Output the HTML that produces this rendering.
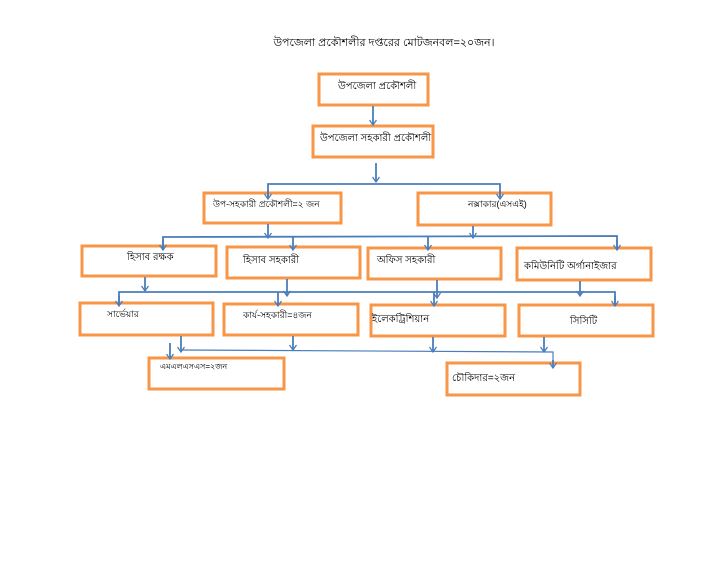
<!DOCTYPE html>
<html><head><meta charset="utf-8"><style>
html,body{margin:0;padding:0;background:#fff;width:720px;height:571px;overflow:hidden}
text{font-family:"Liberation Sans","Noto Sans CJK SC",sans-serif;fill:#000}
</style></head><body>
<svg width="720" height="571" viewBox="0 0 720 571" xmlns="http://www.w3.org/2000/svg">
<defs>
<marker id="a" markerWidth="8" markerHeight="8" refX="7" refY="4" orient="auto" markerUnits="userSpaceOnUse">
<path d="M2,0.5 L7,4 L2,7.5" fill="none" stroke="#4a7ebb" stroke-width="1.3"/>
</marker>
</defs>
<text x="384" y="46" font-size="11" text-anchor="middle">উপজেলা প্রকৌশলীর দপ্তরের মোটজনবল=২০জন।</text>
<g fill="none" stroke="#f79646" stroke-width="3">
<rect x="319" y="74" width="109" height="31"/>
<rect x="313" y="126" width="120" height="31"/>
<rect x="204" y="193" width="137" height="30"/>
<rect x="418" y="193" width="133" height="32"/>
<rect x="82" y="246" width="134" height="30"/>
<rect x="227" y="247" width="133" height="31"/>
<rect x="368" y="248" width="133" height="31"/>
<rect x="517" y="248" width="134" height="32"/>
<rect x="80" y="303" width="133" height="32"/>
<rect x="224" y="304" width="134" height="31"/>
<rect x="371" y="305" width="134" height="31"/>
<rect x="519" y="305" width="134" height="31"/>
<rect x="149" y="358" width="135" height="31"/>
<rect x="447" y="363" width="133" height="32"/>
</g>
<g stroke="#4a7ebb" stroke-width="1.8" fill="none">
<line x1="373" y1="106" x2="373" y2="125" marker-end="url(#a)"/>
<line x1="376" y1="163" x2="376" y2="182" marker-end="url(#a)"/>
<polyline points="268,199 268,184 500,184 500,199"/>
<line x1="268" y1="190" x2="268" y2="199" marker-end="url(#a)"/>
<line x1="500" y1="190" x2="500" y2="199" marker-end="url(#a)"/>
<line x1="268" y1="224" x2="268" y2="238" marker-end="url(#a)"/>
<line x1="473" y1="226" x2="473" y2="238" marker-end="url(#a)"/>
<polyline points="163,250 163,237 617,236 617,250"/>
<line x1="163" y1="240" x2="163" y2="250" marker-end="url(#a)"/>
<line x1="293" y1="237" x2="293" y2="250" marker-end="url(#a)"/>
<line x1="428" y1="237" x2="428" y2="250" marker-end="url(#a)"/>
<line x1="617" y1="240" x2="617" y2="250" marker-end="url(#a)"/>
<line x1="145" y1="277" x2="145" y2="291" marker-end="url(#a)"/>
<line x1="287" y1="279" x2="287" y2="296" marker-end="url(#a)"/>
<line x1="437" y1="280" x2="437" y2="298" marker-end="url(#a)"/>
<line x1="580" y1="281" x2="580" y2="296" marker-end="url(#a)"/>
<polyline points="119,306 119,292 615,292 615,306"/>
<line x1="119" y1="296" x2="119" y2="306" marker-end="url(#a)"/>
<line x1="278" y1="292" x2="278" y2="306" marker-end="url(#a)"/>
<line x1="434" y1="292" x2="434" y2="306" marker-end="url(#a)"/>
<line x1="615" y1="296" x2="615" y2="306" marker-end="url(#a)"/>
<line x1="181" y1="336" x2="181" y2="352" marker-end="url(#a)"/>
<line x1="293" y1="336" x2="293" y2="350" marker-end="url(#a)"/>
<line x1="433" y1="337" x2="433" y2="352" marker-end="url(#a)"/>
<line x1="544" y1="337" x2="544" y2="352" marker-end="url(#a)"/>
<line x1="170" y1="343" x2="170" y2="359" marker-end="url(#a)"/>
</g>
<g stroke="#4a7ebb" stroke-width="1.2" fill="none">
<polyline points="181,350 553,352 553,368"/>
<line x1="553" y1="360" x2="553" y2="368" stroke-width="1.8" marker-end="url(#a)"/>
</g>
<g font-size="10">
<text x="338" y="89">উপজেলা প্রকৌশলী</text>
<text x="320" y="141">উপজেলা সহকারী প্রকৌশলী</text>
<text x="213" y="207" font-size="9">উপ-সহকারী প্রকৌশলী=২ জন</text>
<text x="468" y="207" font-size="9">নক্সাকার(এসএই)</text>
<text x="127" y="260">হিসাব রক্ষক</text>
<text x="243" y="263">হিসাব সহকারী</text>
<text x="377" y="263">অফিস সহকারী</text>
<text x="524" y="269">কমিউনিটি অর্গানাইজার</text>
<text x="107" y="317" font-size="9">সার্ভেয়ার</text>
<text x="243" y="318" font-size="9">কার্য-সহকারী=৪জন</text>
<text x="372" y="322">ইলেকট্রিশিয়ান</text>
<text x="570" y="324">সিসিটি</text>
<text x="160" y="369" font-size="8">এমএলএসএস=২জন</text>
<text x="452" y="381">চৌকিদার=২জন</text>
</g>
</svg>
</body></html>
